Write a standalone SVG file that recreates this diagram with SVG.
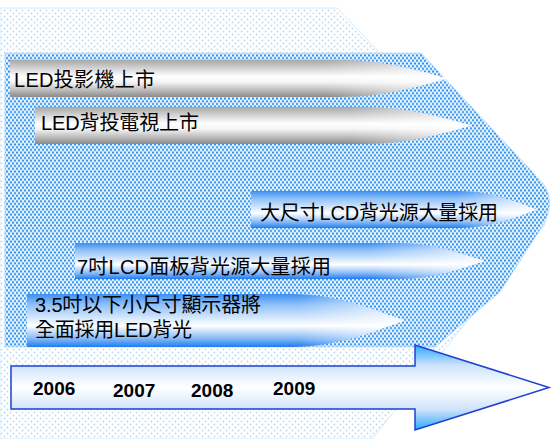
<svg xmlns="http://www.w3.org/2000/svg" width="552" height="439" viewBox="0 0 552 439">
<style>
.t{font-family:"Liberation Sans","Noto Sans CJK TC",sans-serif;font-size:20px;fill:#000}
.y{font-family:"Liberation Sans",Arial,sans-serif;font-weight:bold;font-size:19px;fill:#000}
.fade{fill:url(#fade)}
</style>
<defs>
<pattern id="pale" width="6" height="6" patternUnits="userSpaceOnUse">
<rect width="6" height="6" fill="#ffffff"/>
<circle cx="1.5" cy="1.5" r="0.9" fill="#b8dcf8"/>
<circle cx="4.5" cy="4.5" r="0.9" fill="#b8dcf8"/>
</pattern>
<pattern id="dense" width="4" height="5.4" patternUnits="userSpaceOnUse">
<rect width="4" height="5.4" fill="#e8f4fd"/>
<circle cx="1" cy="1.35" r="1.1" fill="#2a90f0"/>
<circle cx="3" cy="4.05" r="1.1" fill="#2a90f0"/>
</pattern>
<linearGradient id="gray" x1="0" y1="0" x2="0" y2="1">
<stop offset="0" stop-color="#a8a8a8"/>
<stop offset="0.45" stop-color="#ffffff"/>
<stop offset="0.6" stop-color="#f4f4f4"/>
<stop offset="1" stop-color="#8a8a8a"/>
</linearGradient>
<linearGradient id="blue" x1="0" y1="0" x2="0" y2="1">
<stop offset="0" stop-color="#3d8ff2"/>
<stop offset="0.2" stop-color="#8ec0f8"/>
<stop offset="0.6" stop-color="#ffffff"/>
<stop offset="0.85" stop-color="#7fb5f6"/>
<stop offset="1" stop-color="#1e7cf0"/>
</linearGradient>
<linearGradient id="fade" x1="0" y1="0" x2="1" y2="0">
<stop offset="0.72" stop-color="#ffffff" stop-opacity="0"/>
<stop offset="1" stop-color="#ffffff" stop-opacity="0.75"/>
</linearGradient>
<linearGradient id="tl" x1="0" y1="0" x2="0" y2="1">
<stop offset="0" stop-color="#2aa8ff"/>
<stop offset="0.24" stop-color="#cfe3fb"/>
<stop offset="0.5" stop-color="#ffffff"/>
<stop offset="0.76" stop-color="#cfe3fb"/>
<stop offset="1" stop-color="#2aa8ff"/>
</linearGradient>
</defs>
<rect width="552" height="439" fill="#ffffff"/>
<g id="background">
<path d="M0,8 H337 L545,225 L372,439 H0 Z" fill="url(#pale)" stroke="#d6ebfb" stroke-width="1"/>
<path d="M5,53 H421 L540,180 Q556,196 545,222 L500,292 L435,347 H5 Z" fill="url(#dense)" stroke="#bfe0fa" stroke-width="1"/>
</g>
<g id="bar1">
<path d="M10,60 H340 C389,60 425,73 448,78.5 C425,84 389,97 340,97 H10 Z" fill="url(#gray)"/>
<path class="fade" d="M10,60 H340 C389,60 425,73 448,78.5 C425,84 389,97 340,97 H10 Z"/>
<text class="t" x="14" y="87" textLength="141">LED投影機上市</text>
</g>
<g id="bar2">
<path d="M35,107 H365 C413,107 449,120 472,125.5 C449,131 413,144 365,144 H35 Z" fill="url(#gray)"/>
<path class="fade" d="M35,107 H365 C413,107 449,120 472,125.5 C449,131 413,144 365,144 H35 Z"/>
<text class="t" x="41" y="130" textLength="158">LED背投電視上市</text>
</g>
<g id="bar3">
<path d="M251,191 H458 C494,191 520,204 537,209.5 C520,215 494,228 458,228 H251 Z" fill="url(#blue)"/>
<path class="fade" d="M251,191 H458 C494,191 520,204 537,209.5 C520,215 494,228 458,228 H251 Z"/>
<text class="t" x="260" y="220" textLength="238">大尺寸LCD背光源大量採用</text>
</g>
<g id="bar4">
<path d="M75,243 H398 C437,243 467,256 485,261 C467,266 437,279 398,279 H75 Z" fill="url(#blue)"/>
<path class="fade" d="M75,243 H398 C437,243 467,256 485,261 C467,266 437,279 398,279 H75 Z"/>
<text class="t" x="77" y="274" textLength="254">7吋LCD面板背光源大量採用</text>
</g>
<g id="bar5">
<path d="M27,294 H290 C342,294 381,313 405,320.5 C381,328 342,347 290,347 H27 Z" fill="url(#blue)"/>
<path class="fade" d="M27,294 H290 C342,294 381,313 405,320.5 C381,328 342,347 290,347 H27 Z"/>
<text class="t" x="35" y="312" textLength="226">3.5吋以下小尺寸顯示器將</text>
<text class="t" x="35" y="337" textLength="157">全面採用LED背光</text>
</g>
<g id="timeline">
<path d="M11,366 H415 V345 L549,387.5 L415,430 V409 H11 Z" fill="url(#tl)" stroke="#2040d0" stroke-width="1.5"/>
<text class="y" x="33" y="395">2006</text>
<text class="y" x="113" y="397">2007</text>
<text class="y" x="191" y="397">2008</text>
<text class="y" x="273" y="395">2009</text>
</g>
<g id="connectors"/>
</svg>
